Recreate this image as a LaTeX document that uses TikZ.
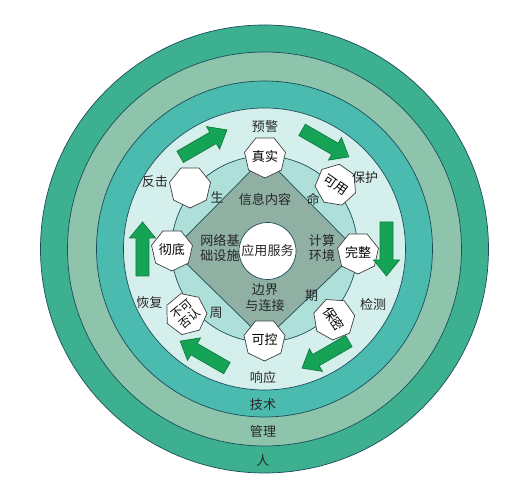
\documentclass[tikz,border=0pt]{standalone}
\usepackage{fontspec}
\setmainfont{Noto Sans CJK SC}
\usepackage{tikz}
\usetikzlibrary{shapes.geometric,positioning}

\definecolor{ringman}{HTML}{3DB08F}
\definecolor{ringmgmt}{HTML}{8DC4AB}
\definecolor{ringtech}{HTML}{4BBAAF}
\definecolor{ringflow}{HTML}{D5EFEC}
\definecolor{ringlife}{HTML}{AEE0D9}
\definecolor{diamondfill}{HTML}{8FB0A2}
\definecolor{arrowfill}{HTML}{15A456}
\definecolor{edgeline}{HTML}{1B4D5C}

\tikzset{
  lbl/.style={font=\fontsize{7.4}{9}\selectfont, text=black!85, align=center, inner sep=0pt},
  heptbox/.style={regular polygon, regular polygon sides=7, shape border rotate=180,
    draw=black!75, fill=white, minimum size=0.84cm, inner sep=0pt,
    font=\fontsize{7.4}{8.4}\selectfont, align=center},
  flowarrow/.style={fill=arrowfill, draw=arrowfill!75!black, thin},
}

\begin{document}
\begin{tikzpicture}[scale=0.02]
\useasboundingbox (-264.5,-251) rectangle (267.5,249);
\filldraw[fill=ringman, draw=edgeline, thin] (0,0) circle[radius=224];
\filldraw[fill=ringmgmt, draw=edgeline, thin] (0,0) circle[radius=197];
\filldraw[fill=ringtech, draw=edgeline, thin] (0,0) circle[radius=168];
\filldraw[fill=ringflow, draw=edgeline, thin] (0,0) circle[radius=141];
\filldraw[fill=ringlife, draw=edgeline, thin] (0,0) circle[radius=93];
\filldraw[fill=diamondfill, draw=edgeline, thin] (0,92) -- (93,-2) -- (0,-91) -- (-92,-1) -- cycle;
\node[circle, draw=edgeline, fill=white, minimum size=1.14cm, inner sep=0pt, lbl] (core) at (3,-2) {应用服务};

\node[lbl] (info) at (0.5,49) {信息内容};
\node[lbl] (net) at (-44.5,1) {网络基\\础设施};
\node[lbl] (comp) at (57.5,1) {计算\\环境};
\node[lbl] (edge) at (0.5,-49) {边界\\与连接};

\node[heptbox] (real) at (0.5,92) {真实};
\node[heptbox, rotate=-35] (avail) at (71.5,64) {可用};
\node[heptbox] (whole) at (93.5,-4) {完整};
\node[heptbox, rotate=-55] (secret) at (69.5,-70) {保密};
\node[heptbox] (ctrl) at (0,-91) {可控};
\node[heptbox, rotate=40, font=\fontsize{6.6}{7.2}\selectfont] (nonrep) at (-78.5,-65) {不可\\否认};
\node[heptbox] (thorough) at (-92.5,-1) {彻底};
\node[heptbox] (blank) at (-74.5,62) {};

\node[lbl] (sheng) at (-47.5,52) {生};
\node[lbl] (ming) at (48.5,50) {命};
\node[lbl] (qi) at (47,-47) {期};
\node[lbl] (zhou) at (-48.5,-64) {周};

\node[lbl] (warn) at (0.5,122) {预警};
\node[lbl] (protect) at (100.5,71) {保护};
\node[lbl] (detect) at (108.5,-56) {检测};
\node[lbl] (respond) at (-1.5,-129) {响应};
\node[lbl] (recover) at (-115,-54) {恢复};
\node[lbl] (strike) at (-109.5,67) {反击};

\foreach \ang in {120,60,0,-60,-120,180}
  \filldraw[flowarrow, rotate=\ang] (115.5,27) -- (115.5,-11) -- (109,-11) -- (122,-27)
    -- (135,-11) -- (128.5,-11) -- (128.5,27) -- cycle;

\node[lbl] (tech) at (-1.5,-156) {技术};
\node[lbl] (mgmt) at (-1.5,-183) {管理};
\node[lbl] (man) at (-1.5,-212) {人};
\end{tikzpicture}
\end{document}
